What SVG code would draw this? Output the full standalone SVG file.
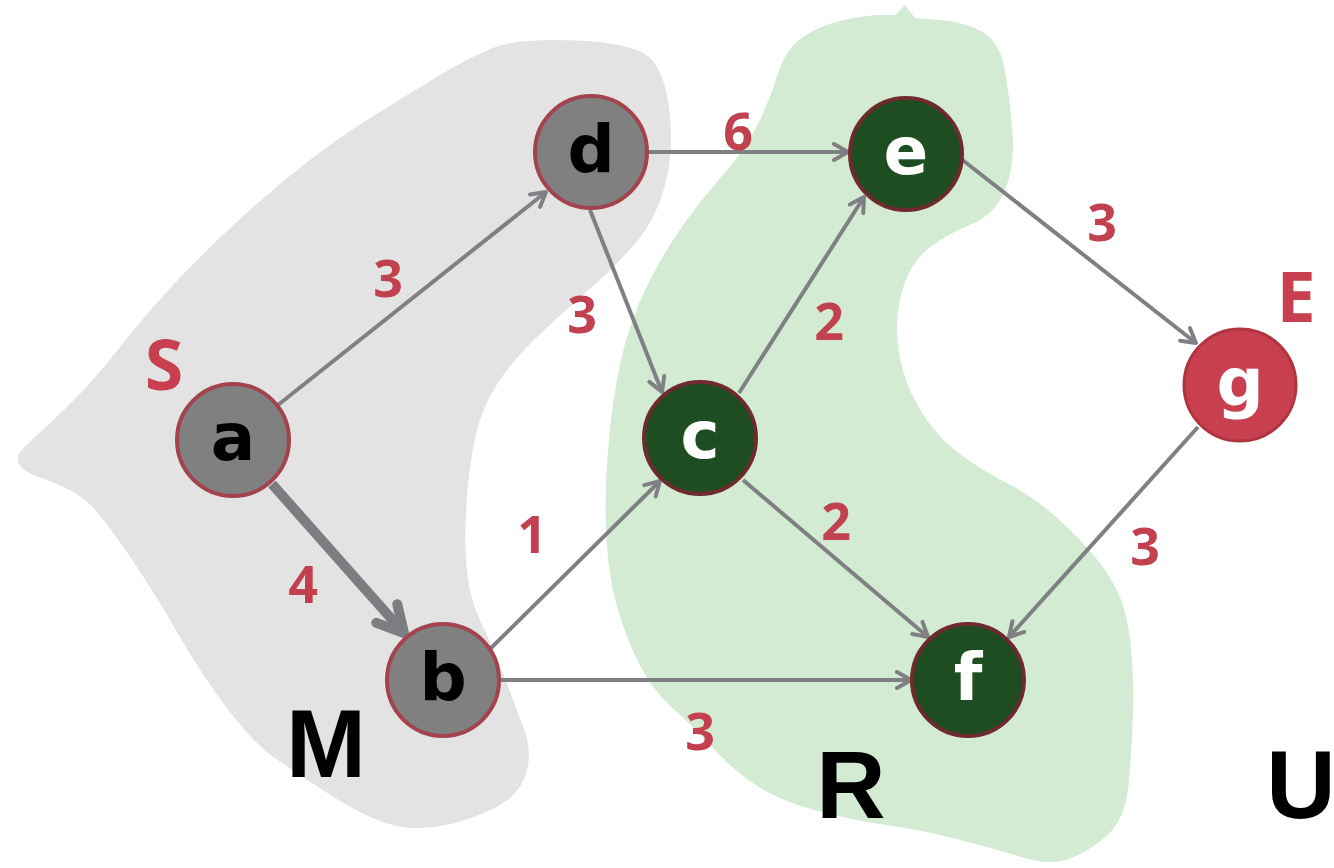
<svg xmlns="http://www.w3.org/2000/svg" width="1334" height="868" viewBox="0 0 1334 868">
<style>
.edge{fill:none;stroke:#7f8084;stroke-width:4}
.thick{fill:none;stroke:#7c7d80;stroke-width:10}
.ng{fill:#808080;stroke:#a3434d;stroke-width:4}
.ngr{fill:#1e4d21;stroke:#6e2a2c;stroke-width:4}
.nr{fill:#c8404f;stroke:#b0343f;stroke-width:3}
.lt{font-family:"DejaVu Sans",Verdana,sans-serif;font-weight:bold;font-size:66px;text-anchor:middle}
.w{font-family:"Open Sans","DejaVu Sans",sans-serif;font-weight:bold;font-size:52px;fill:#c2414f;text-anchor:middle}
.se{font-family:"Open Sans","DejaVu Sans",sans-serif;font-weight:bold;font-size:70px;fill:#c8404f;text-anchor:middle}
.big{font-family:"Liberation Sans",Arial,sans-serif;font-weight:bold;font-size:96px;fill:#000;text-anchor:middle}
</style>
<defs>
<marker id="arr" viewBox="0 0 20 20" refX="17" refY="10" markerWidth="20" markerHeight="20" markerUnits="userSpaceOnUse" orient="auto">
<path d="M3,2 L17,10 L3,18" fill="none" stroke="#7f8084" stroke-width="4" stroke-linecap="round" stroke-linejoin="round"/>
</marker>
<marker id="arrT" viewBox="0 0 40 40" refX="35" refY="20" markerWidth="40" markerHeight="40" markerUnits="userSpaceOnUse" orient="auto">
<path d="M9,6 L35,20 L9,34" fill="none" stroke="#7c7d80" stroke-width="10" stroke-linecap="round" stroke-linejoin="round"/>
</marker>
</defs>
<rect width="1334" height="868" fill="#ffffff"/>
<g id="regions">
<path id="regionM" fill="#e3e3e3" d="M436,77.5 Q470,57 494,47.5 Q518,38 576,40.5 Q634,43 649.5,57.5 Q665,72 669.5,111.5 Q674,151 665,185 Q656,219 636,242.5 Q616,266 589,289.5 Q562,313 537.5,336.5 Q513,360 497.5,383.5 Q482,407 475.5,436 Q469,465 466.5,504 Q464,543 467,571.5 Q470,600 481,622.5 Q492,645 503.5,675 Q515,705 523.5,727.5 Q532,750 527,770 Q522,790 506,801 Q490,812 465,820 Q440,828 417.5,828 Q395,828 372.5,818 Q350,808 325,791.5 Q300,775 277.5,760 Q255,745 228,709.5 Q201,674 178.5,634.5 Q156,595 129.5,556 Q103,517 89,503.5 Q75,490 40,477.5 Q5,465 25,446.5 Q45,428 67,407 Q89,386 118,349.5 Q147,313 174,284 Q201,255 234.5,224 Q268,193 301.5,166.5 Q335,140 368.5,119 Q402,98 436,77.5 Z"/>
<path id="regionR" fill="#d4ebd3" d="M895,15 L905,5 L915,18 L940,20 Q965,22 982.5,32 Q1000,42 1005,71 Q1010,100 1012.5,132.5 Q1015,165 1005,190 Q995,215 970,225 Q945,235 928.5,248.5 Q912,262 904.5,283.5 Q897,305 897,327.5 Q897,350 903.5,372.5 Q910,395 925,417.5 Q940,440 962.5,456 Q985,472 1007.5,483.5 Q1030,495 1049,511 Q1068,527 1086.5,547 Q1105,567 1116,588.5 Q1127,610 1130.5,642.5 Q1134,675 1133,712.5 Q1132,750 1128.5,785 Q1125,820 1106.5,836 Q1088,852 1069,859 Q1050,866 1021,857 Q992,848 956.5,839 Q921,830 886,825 Q851,820 816,810.5 Q781,801 758,786.5 Q735,772 715,750 Q695,728 673.5,709 Q652,690 639,663.5 Q626,637 617.5,608.5 Q609,580 606.5,540 Q604,500 608,450 Q612,400 621,360 Q630,320 647.5,285 Q665,250 685,222.5 Q705,195 725,172.5 Q745,150 757.5,125 Q770,100 777.5,75 Q785,50 802.5,37.5 Q820,25 844,20 Q868,15 881.5,15 Z"/>
</g>
<g id="connectors">
<line class="edge" x1="278" y1="405" x2="546" y2="192" marker-end="url(#arr)"/>
<line class="thick" x1="272" y1="484" x2="404" y2="633" marker-end="url(#arrT)"/>
<line class="edge" x1="590" y1="210" x2="662" y2="392" marker-end="url(#arr)"/>
<line class="edge" x1="648" y1="152" x2="848" y2="152" marker-end="url(#arr)"/>
<line class="edge" x1="739" y1="393" x2="864" y2="197" marker-end="url(#arr)"/>
<line class="edge" x1="487" y1="652" x2="660" y2="481" marker-end="url(#arr)"/>
<line class="edge" x1="500" y1="680" x2="911" y2="680" marker-end="url(#arr)"/>
<line class="edge" x1="743" y1="480" x2="928" y2="637" marker-end="url(#arr)"/>
<line class="edge" x1="960" y1="158" x2="1196" y2="343" marker-end="url(#arr)"/>
<line class="edge" x1="1198" y1="427" x2="1009" y2="637" marker-end="url(#arr)"/>
</g>
<g id="edge-labels">
<text class="w" x="388" y="297">3</text>
<text class="w" x="303" y="603">4</text>
<text class="w" x="582" y="333">3</text>
<text class="w" x="738" y="150">6</text>
<text class="w" x="829" y="340">2</text>
<text class="w" x="532" y="553">1</text>
<text class="w" x="836" y="540">2</text>
<text class="w" x="700" y="750">3</text>
<text class="w" x="1102" y="241">3</text>
<text class="w" x="1145" y="565">3</text>
</g>
<g id="node-a"><circle class="ng" cx="233" cy="440" r="56"/><text class="lt" x="233" y="460" fill="#000">a</text></g>
<g id="node-b"><circle class="ng" cx="443" cy="680" r="56"/><text class="lt" x="443" y="700" fill="#000">b</text></g>
<g id="node-d"><circle class="ng" cx="591" cy="152" r="56"/><text class="lt" x="591" y="172" fill="#000">d</text></g>
<g id="node-c"><circle class="ngr" cx="700" cy="438" r="56"/><text class="lt" x="700" y="458" fill="#fff">c</text></g>
<g id="node-e"><circle class="ngr" cx="906" cy="154" r="56"/><text class="lt" x="906" y="174" fill="#fff">e</text></g>
<g id="node-f"><circle class="ngr" cx="968" cy="680" r="56"/><text class="lt" x="968" y="700" fill="#fff">f</text></g>
<g id="node-g"><circle class="nr" cx="1240" cy="385" r="56"/><text class="lt" x="1240" y="405" fill="#fff">g</text></g>
<g id="region-labels">
<text class="se" x="164" y="390">S</text>
<text class="se" x="1296" y="322">E</text>
<text class="big" x="326" y="777">M</text>
<text class="big" x="851" y="818">R</text>
<text class="big" x="1301" y="818">U</text>
</g>
</svg>
